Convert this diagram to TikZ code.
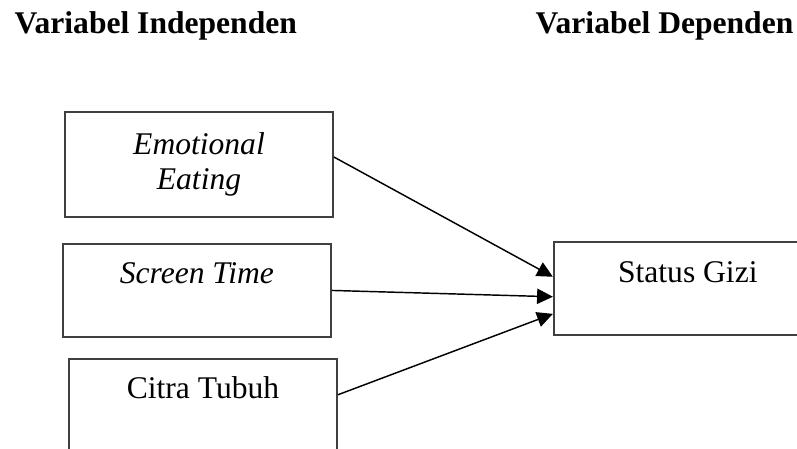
\documentclass[tikz,border=0pt]{standalone}
\usepackage{fontspec}
\setmainfont{Liberation Serif}
\usepackage{tikz}
\usetikzlibrary{arrows.meta,positioning}
\definecolor{boxgray}{HTML}{404040}

\begin{document}
\begin{tikzpicture}[x=0.38pt,y=-0.38pt,->,>={Triangle[length=6pt,width=5.8pt]},
                    line width=0.55pt,
                    varbox/.style={draw=boxgray,line width=0.75pt,inner sep=0pt,
                      minimum width=101.8pt,align=center},
                    onerow/.style={varbox,text height=15.2pt,text depth=20.1pt},
                    heading/.style={inner sep=0pt,anchor=base west,font=\bfseries}]
  \fontsize{12}{13.3}\selectfont
  \useasboundingbox (0,0) rectangle (797,448);

  %\draw[help lines] (0,0) grid (797,448);

  \node[heading] (indep) at (14,33)  {Variabel Independen};
  \node[heading] (dep)   at (535,33) {Variabel Dependen};

  \node[varbox,minimum height=39.9pt] (ee) at (199,164.5) {\textit{Emotional}\\\textit{Eating}};
  \node[onerow] (st) [below=9.5pt of ee,xshift=-0.8pt] {\textit{Screen Time}};
  \node[onerow] (ct) [below=7.6pt of st,xshift=2.3pt]  {Citra Tubuh};
  \node[onerow] (sg) [right=84pt of st,yshift=0.6pt]  {Status Gizi};

  \path ([yshift=2.85pt]ee.east) edge ([yshift=4.6pt]sg.west)
        (st.east)                edge ([yshift=-3pt]sg.west)
        ([yshift=4pt]ct.east)    edge ([yshift=-9.5pt]sg.west);
\end{tikzpicture}
\end{document}
